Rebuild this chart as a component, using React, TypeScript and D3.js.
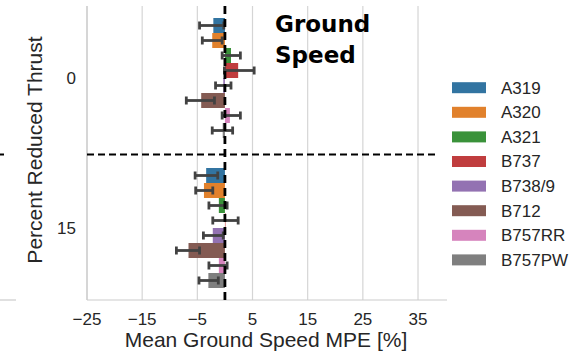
import React from 'react';
import * as d3 from 'd3';

// thrust levels (y categories) and aircraft types (hue)
const thrustLevels = ['0', '15'];
const aircraft = ['A319', 'A320', 'A321', 'B737', 'B738/9', 'B712', 'B757RR', 'B757PW'];
const palette = ['#3274a1', '#e1812c', '#3a923a', '#c03d3e', '#9372b2', '#845b53', '#d684bd', '#7f7f7f'];

// mean ground speed MPE [%] with CI bounds, per thrust level
const mean0 = [-2.1, -2.3, 1.1, 2.4, -0.3, -4.3, 0.9, -0.4];
const low0 = [-4.6, -4.1, -0.5, -0.1, -1.7, -7.0, -0.5, -2.3];
const high0 = [-0.2, -0.5, 2.8, 5.3, 1.1, -1.9, 2.8, 1.4];

const mean15 = [-3.4, -3.8, -1.1, 0.1, -2.2, -6.6, -1.1, -3.0];
const low15 = [-5.4, -5.3, -2.9, -2.2, -3.9, -8.8, -2.9, -4.7];
const high15 = [-1.3, -2.2, 0.4, 2.4, -0.3, -4.6, 0.4, -1.2];

const xTicks = [-25, -15, -5, 5, 15, 25, 35];

const W = 572;
const H = 354;
const plot = { left: 87, right: 445.6, top: 6, bottom: 300 };
const font = '"Liberation Sans", Arial, sans-serif';
const textColor = '#262626';
const errColor = '#424242';

export default function App() {
  const x = d3.scaleLinear().domain([-25, 40]).range([plot.left, plot.right]);
  const yCat = d3.scaleBand().domain(thrustLevels).range([3, 303]);
  const yLevel = d3.scaleLinear().domain([-0.5, 1.5]).range([3, 303]);
  const yHue = d3.scaleBand().domain(aircraft).range([0, yCat.bandwidth() * 0.8]);

  const series = [
    { level: '0', mean: mean0, low: low0, high: high0 },
    { level: '15', mean: mean15, low: low15, high: high15 },
  ];

  const capH = 8;

  return (
    <svg width={W} height={H} style={{ position: 'absolute', left: 0, top: 0, background: '#fff' }}>
      {/* grid */}
      {xTicks.map((t) => (
        <line key={'g' + t} x1={x(t)} x2={x(t)} y1={plot.top} y2={plot.bottom} stroke="#d5d5d5" strokeWidth={1.2} />
      ))}
      {/* spines */}
      <line x1={plot.left} x2={plot.left} y1={plot.top} y2={plot.bottom} stroke="#cccccc" strokeWidth={1.2} />
      <line x1={plot.left} x2={447} y1={plot.bottom} y2={plot.bottom} stroke="#cccccc" strokeWidth={1.2} />

      {/* bars */}
      {series.map((s) => {
        const groupTop = (yCat(s.level) as number) + yCat.bandwidth() * 0.1;
        return aircraft.map((a, i) => {
          const y0 = groupTop + (yHue(a) as number);
          const v = s.mean[i];
          return (
            <rect
              key={s.level + a}
              x={Math.min(x(0), x(v))}
              y={y0}
              width={Math.abs(x(v) - x(0))}
              height={yHue.bandwidth()}
              fill={palette[i]}
            />
          );
        });
      })}

      {/* error bars */}
      {series.map((s) => {
        const groupTop = (yCat(s.level) as number) + yCat.bandwidth() * 0.1;
        return aircraft.map((a, i) => {
          const cy = groupTop + (yHue(a) as number) + yHue.bandwidth() / 2;
          const xl = x(s.low[i]);
          const xh = x(s.high[i]);
          return (
            <g key={'e' + s.level + a} stroke={errColor} strokeWidth={2.8}>
              <line x1={xl} x2={xh} y1={cy} y2={cy} />
              <line x1={xl} x2={xl} y1={cy - capH / 2} y2={cy + capH / 2} />
              <line x1={xh} x2={xh} y1={cy - capH / 2} y2={cy + capH / 2} />
            </g>
          );
        });
      })}

      {/* reference lines */}
      <line x1={x(0)} x2={x(0)} y1={plot.top} y2={plot.bottom} stroke="#000" strokeWidth={2.8} strokeDasharray="8,5" />
      <line x1={plot.left} x2={435} y1={yLevel(0.51)} y2={yLevel(0.51)} stroke="#000" strokeWidth={2} strokeDasharray="7,4" />
      <line x1={0} x2={4} y1={yLevel(0.51)} y2={yLevel(0.51)} stroke="#000" strokeWidth={2} />
      <line x1={0} x2={16} y1={plot.bottom} y2={plot.bottom} stroke="#cccccc" strokeWidth={1.2} />

      {/* x tick labels */}
      {xTicks.map((t) => (
        <text key={'t' + t} x={x(t)} y={325} textAnchor="middle" fontFamily={font} fontSize={17} fill={textColor}>
          {t < 0 ? '\u2212' + Math.abs(t) : t}
        </text>
      ))}
      <text x={266} y={347} textAnchor="middle" fontFamily={font} fontSize={21} fill={textColor}>
        Mean Ground Speed MPE [%]
      </text>

      {/* y tick labels */}
      {thrustLevels.map((lv) => (
        <text
          key={'y' + lv}
          x={76}
          y={(yCat(lv) as number) + yCat.bandwidth() / 2}
          dy="0.35em"
          textAnchor="end"
          fontFamily={font}
          fontSize={17}
          fill={textColor}
        >
          {lv}
        </text>
      ))}
      <text
        transform={`translate(42,150) rotate(-90)`}
        textAnchor="middle"
        fontFamily={font}
        fontSize={21}
        fill={textColor}
      >
        Percent Reduced Thrust
      </text>

      {/* title */}
      <text x={275} y={32} fontFamily='"DejaVu Sans", sans-serif' fontWeight="bold" fontSize={23} fill="#000">
        Ground
      </text>
      <text x={275} y={63} fontFamily='"DejaVu Sans", sans-serif' fontWeight="bold" fontSize={23} fill="#000">
        Speed
      </text>

      {/* legend */}
      {aircraft.map((a, i) => {
        const cy = 87.7 + i * 24.6;
        return (
          <g key={'l' + a}>
            <rect x={452} y={cy - 5.5} width={34} height={11} fill={palette[i]} />
            <text x={501} y={cy} dy="0.35em" fontFamily={font} fontSize={17} fill={textColor}>
              {a}
            </text>
          </g>
        );
      })}
    </svg>
  );
}
